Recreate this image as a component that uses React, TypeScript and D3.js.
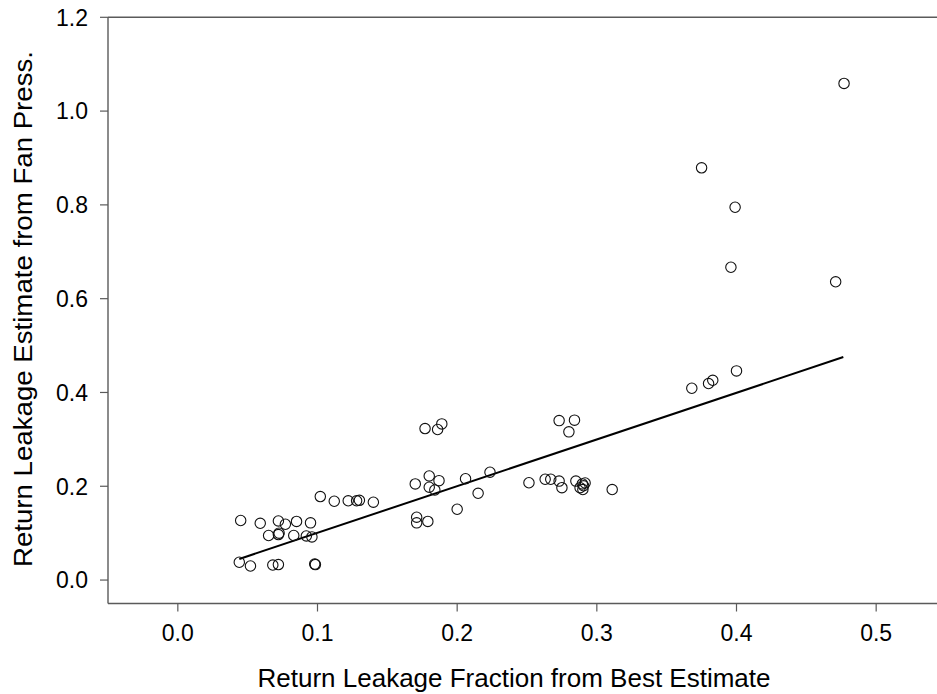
import * as d3 from "d3"

// measured points: return leakage fraction (best estimate) vs fan-pressure estimate
const bestEstimate = [
  0.044, 0.052, 0.068, 0.072, 0.098, 0.0985,
  0.045, 0.059, 0.072, 0.077, 0.085, 0.095,
  0.065, 0.072, 0.0725, 0.083, 0.092, 0.096,
  0.102, 0.112, 0.122, 0.128, 0.130, 0.140,
  0.170, 0.180, 0.180, 0.187, 0.184, 0.206, 0.2235, 0.215, 0.200,
  0.171, 0.171, 0.179,
  0.177, 0.186, 0.189,
  0.273, 0.284, 0.280,
  0.2514, 0.263, 0.267, 0.273, 0.275, 0.285,
  0.2896, 0.2916, 0.288, 0.290, 0.2905, 0.311,
  0.368, 0.380, 0.383, 0.400,
  0.477, 0.375, 0.399, 0.396, 0.471,
]
const fanPressure = [
  0.038, 0.030, 0.032, 0.033, 0.034, 0.033,
  0.127, 0.121, 0.126, 0.119, 0.125, 0.122,
  0.095, 0.097, 0.1, 0.095, 0.094, 0.092,
  0.178, 0.168, 0.169, 0.169, 0.170, 0.166,
  0.205, 0.222, 0.198, 0.212, 0.192, 0.216, 0.230, 0.185, 0.151,
  0.134, 0.122, 0.125,
  0.323, 0.321, 0.333,
  0.340, 0.341, 0.316,
  0.2075, 0.215, 0.215, 0.211, 0.197, 0.211,
  0.205, 0.207, 0.197, 0.193, 0.201, 0.193,
  0.409, 0.419, 0.426, 0.446,
  1.059, 0.879, 0.795, 0.667, 0.636,
]

// fitted regression line end points
const fitX = [0.044, 0.4765]
const fitY = [0.045, 0.4755]

const xTicks = [0.0, 0.1, 0.2, 0.3, 0.4, 0.5]
const yTicks = [0.0, 0.2, 0.4, 0.6, 0.8, 1.0, 1.2]

const W = 937
const H = 694
const font = "'Liberation Sans', Arial, sans-serif"

export default function App() {
  const x = d3.scaleLinear().domain([-0.05, 0.55]).range([108, 946])
  const y = d3.scaleLinear().domain([-0.05, 1.2]).range([603.5, 17.3])
  const fmt = d3.format(".1f")

  const points = bestEstimate.map((b, i) => [b, fanPressure[i]] as [number, number])
  const fit = fitX.map((v, i) => [v, fitY[i]] as [number, number])
  const line = d3
    .line<[number, number]>()
    .x((d) => x(d[0]))
    .y((d) => y(d[1]))

  const [x0, x1] = x.range()
  const [y0, y1] = y.range()
  const axisColor = "#5a5a5a"

  return (
    <svg
      width={W}
      height={H}
      style={{ position: "absolute", left: 0, top: 0, background: "#fff", fontFamily: font }}
    >
      {/* frame: left, top, bottom */}
      <line x1={x0} x2={x0} y1={y1} y2={y0} stroke={axisColor} strokeWidth={1.4} />
      <line x1={x0} x2={x1} y1={y1} y2={y1} stroke={axisColor} strokeWidth={1.4} />
      <line x1={x0} x2={x1} y1={y0} y2={y0} stroke={axisColor} strokeWidth={1.4} />

      {/* y ticks */}
      {yTicks.map((t) => (
        <g key={"y" + t}>
          <line x1={x0 - 8} x2={x0} y1={y(t)} y2={y(t)} stroke={axisColor} strokeWidth={1.2} />
          <text x={x0 - 20} y={y(t)} dy="0.36em" textAnchor="end" fontSize={23} fill="#000">
            {fmt(t)}
          </text>
        </g>
      ))}

      {/* x ticks */}
      {xTicks.map((t) => (
        <g key={"x" + t}>
          <line x1={x(t)} x2={x(t)} y1={y0} y2={y0 + 8} stroke={axisColor} strokeWidth={1.2} />
          <text x={x(t)} y={641} textAnchor="middle" fontSize={23} fill="#000">
            {fmt(t)}
          </text>
        </g>
      ))}

      {/* regression line */}
      <path d={line(fit) ?? ""} fill="none" stroke="#000" strokeWidth={2} />

      {/* data points */}
      {points.map((p, i) => (
        <circle
          key={i}
          cx={x(p[0])}
          cy={y(p[1])}
          r={5.2}
          fill="none"
          stroke="#111"
          strokeWidth={1.1}
        />
      ))}

      {/* axis titles */}
      <text x={514} y={687} textAnchor="middle" fontSize={26} fill="#000">
        Return Leakage Fraction from Best Estimate
      </text>
      <text
        transform={`translate(32, 309) rotate(-90)`}
        textAnchor="middle"
        fontSize={26}
        textLength={516}
        lengthAdjust="spacingAndGlyphs"
        fill="#000"
      >
        Return Leakage Estimate from Fan Press.
      </text>
    </svg>
  )
}
